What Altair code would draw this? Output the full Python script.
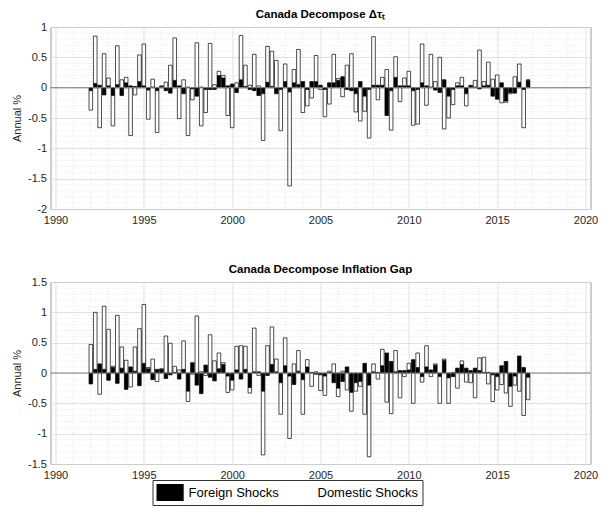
import altair as alt
import pandas as pd
import numpy as np

# ---------------- data ----------------
start_year = 1992.0
quarter_step = 0.25

tau_foreign = [
    -0.05, 0.07, 0.04, -0.12, 0.03, -0.13, 0.05, -0.13, 0.08, 0.03,
    0.02, 0.10, 0.03, -0.04, 0.01, -0.05, 0.02, -0.05, -0.09, 0.12,
    0.03, -0.10, 0.01, -0.02, -0.14, 0.01, -0.03, -0.03, -0.03, 0.20,
    0.16, 0.03, 0.06, -0.08, 0.13, 0.02, -0.03, -0.05, -0.13, -0.10,
    0.09, 0.02, -0.10, -0.03, 0.10, -0.07, 0.08, 0.05, 0.10, -0.03,
    0.10, 0.10, 0.04, -0.03, 0.08, 0.08, 0.12, 0.18, -0.03, -0.05,
    -0.10, 0.10, -0.14, -0.03, 0.04, 0.04, 0.04, -0.46, -0.05, 0.17,
    0.03, 0.03, 0.03, -0.05, -0.03, 0.08, 0.03, 0.01, -0.04, -0.08,
    0.13, -0.14, -0.03, 0.03, 0.03, -0.10, 0.03, 0.01, -0.02, 0.03,
    0.04, -0.14, -0.19, 0.08, -0.22, -0.08, -0.09, 0.09, -0.03, 0.12,
]
tau_domestic = [
    -0.32, 0.78, -0.66, 0.56, 0.13, -0.50, 0.64, 0.13, 0.09, -0.79,
    -0.12, 0.44, 0.69, -0.48, 0.13, -0.69, 0.01, 0.09, 0.37, 0.70,
    -0.51, 0.13, -0.79, -0.18, 0.74, -0.63, -0.38, 0.73, 0.05, 0.07,
    0.04, -0.46, -0.66, 0.08, 0.73, 0.35, 0.04, 0.55, 0.03, -0.77,
    0.59, 0.58, 0.45, -0.68, 0.29, -1.55, 0.22, 0.58, -0.41, -0.27,
    -0.17, 0.43, -0.03, -0.45, -0.27, 0.47, 0.03, -0.15, 0.37, 0.56,
    -0.30, -0.55, -0.25, -0.80, 0.80, -0.20, 0.13, 0.30, -0.65, 0.34,
    -0.23, 0.13, 0.24, -0.57, -0.57, 0.64, -0.29, 0.54, 0.10, 0.50,
    -0.68, -0.36, -0.25, 0.05, 0.14, -0.20, 0.01, 0.11, 0.62, 0.07,
    0.38, 0.14, 0.21, -0.25, -0.02, -0.02, 0.18, 0.30, -0.63, 0.01,
]
gap_foreign = [
    -0.18, 0.06, 0.15, 0.06, -0.12, 0.09, -0.17, 0.08, -0.27, 0.10,
    0.03, -0.21, 0.16, 0.07, -0.11, 0.06, 0.06, -0.09, -0.03, 0.01,
    -0.10, 0.06, -0.30, 0.17, -0.20, -0.34, 0.13, -0.07, -0.13, 0.07,
    0.14, -0.05, -0.12, 0.05, -0.10, 0.06, -0.24, 0.02, 0.02, -0.30,
    -0.04, 0.14, 0.02, -0.16, 0.12, -0.05, -0.19, 0.03, -0.11, 0.10,
    0.01, -0.02, -0.03, -0.05, 0.01, -0.16, -0.25, -0.14, 0.10, -0.32,
    -0.16, -0.14, 0.16, -0.20, 0.02, 0.01, 0.12, 0.33, 0.19, 0.02,
    0.04, 0.04, 0.05, 0.22, 0.09, -0.06, 0.10, 0.05, 0.13, -0.06,
    0.21, -0.08, -0.06, 0.08, 0.14, 0.08, 0.04, 0.08, 0.04, 0.01,
    0.01, -0.03, -0.06, 0.12, 0.19, -0.22, -0.05, 0.28, 0.09, -0.07,
]
gap_domestic = [
    0.47, 0.94, -0.35, 1.04, 0.72, 0.02, 0.95, 0.35, 0.21, -0.23,
    0.40, 0.73, 0.97, 0.02, 0.23, -0.14, 0.01, 0.61, 0.49, 0.10,
    0.05, 0.47, -0.17, -0.02, 0.94, 0.02, -0.04, 0.63, 0.20, 0.26,
    0.03, -0.27, -0.16, 0.39, 0.45, 0.38, -0.09, 0.72, -0.04, -1.05,
    0.45, 0.62, 0.21, -0.52, 0.46, -1.03, 0.15, 0.34, -0.57, 0.12,
    -0.22, 0.02, -0.26, -0.32, 0.02, 0.15, -0.14, 0.03, -0.28, -0.31,
    -0.14, -0.08, -0.68, -1.18, 0.13, -0.10, 0.27, -0.48, -0.67, 0.35,
    -0.41, -0.06, 0.11, -0.50, 0.24, -0.09, 0.35, -0.06, 0.02, -0.44,
    0.02, -0.42, 0.01, -0.25, 0.06, -0.15, -0.16, -0.41, 0.21, 0.25,
    -0.18, -0.44, -0.22, -0.19, -0.33, -0.33, -0.15, -0.30, -0.70, -0.37,
]

series_names = ["Foreign Shocks", "Domestic Shocks"]
x_ticks = [1990, 1995, 2000, 2005, 2010, 2015, 2020]
top_y_ticks = [-2, -1.5, -1, -0.5, 0, 0.5, 1]
bottom_y_ticks = [-1.5, -1, -0.5, 0, 0.5, 1, 1.5]
top_title = "Canada Decompose \u0394\u03c4\u209c"
bottom_title = "Canada Decompose Inflation Gap"
y_title = "Annual %"

dates = [start_year + quarter_step * i for i in range(len(tau_foreign))]


def make_df(foreign, domestic):
    rows = []
    for t, a, b in zip(dates, foreign, domestic):
        rows.append({"date": t, "value": a, "shock": series_names[0], "ord": 0})
        rows.append({"date": t, "value": b, "shock": series_names[1], "ord": 1})
    return pd.DataFrame(rows)


FONT = "Liberation Sans"
W, H = 540, 182
x_minor = [v for v in np.arange(1990, 2020.01, 1.0) if round(v) % 5 != 0]


def panel(df, title, yticks, legend):
    ymin, ymax = yticks[0], yticks[-1]
    y_minor = [round(v, 2) for v in np.arange(ymin, ymax + 0.001, 0.1)
               if abs(round(v * 2) - v * 2) > 1e-6]
    xs = alt.Scale(domain=[1990, 2020], nice=False, zero=False)
    ys = alt.Scale(domain=[ymin, ymax], nice=False, zero=False)
    x_axis = alt.Axis(values=x_ticks, labelExpr="datum.value + ''",
                      title=None, grid=True, ticks=False, tickSize=0,
                      domain=False, labelPadding=5)
    y_axis = alt.Axis(values=yticks, labelExpr="datum.value + ''",
                      title=y_title, grid=True, ticks=False, tickSize=0,
                      domain=False, labelPadding=4, titlePadding=2,
                      titleX=-28, minExtent=24, maxExtent=24)

    gx = alt.Chart(pd.DataFrame({"date": x_minor})).mark_rule(
        color="#dedede", strokeDash=[1, 2], strokeWidth=0.8
    ).encode(x=alt.X("date:Q", scale=xs, axis=x_axis))
    gy = alt.Chart(pd.DataFrame({"value": y_minor})).mark_rule(
        color="#dedede", strokeDash=[1, 2], strokeWidth=0.8
    ).encode(y=alt.Y("value:Q", scale=ys, axis=y_axis))

    bars = alt.Chart(df).mark_bar(
        size=3.6, stroke="black", strokeWidth=0.7
    ).encode(
        x=alt.X("date:Q", scale=xs, axis=x_axis),
        y=alt.Y("value:Q", stack="zero", scale=ys, axis=y_axis),
        fill=alt.Fill("shock:N",
                      scale=alt.Scale(domain=series_names, range=["black", "white"]),
                      legend=legend),
        order=alt.Order("ord:Q"),
    )
    zero = alt.Chart(pd.DataFrame({"value": [0]})).mark_rule(
        color="#808080", strokeWidth=1
    ).encode(y=alt.Y("value:Q", scale=ys, axis=y_axis))

    return alt.layer(gx, gy, bars, zero).properties(
        width=W, height=H,
        title=alt.TitleParams(title, font=FONT, fontSize=11.5, fontWeight="bold",
                              color="black", offset=1, anchor="middle",
                              frame="group"),
    )


legend = alt.Legend(
    orient="none", legendX=102, legendY=453, direction="horizontal", columns=2,
    title=None, symbolType="M-1,-1H2.2V1H-1Z", symbolSize=289,
    symbolStrokeWidth=0, labelFont=FONT, labelFontSize=13, labelColor="black",
    labelOffset=15, columnPadding=6, padding=4, strokeColor="#333333",
    fillColor="white",
)

top = panel(make_df(tau_foreign, tau_domestic), top_title, top_y_ticks, legend)
bottom = panel(make_df(gap_foreign, gap_domestic), bottom_title, bottom_y_ticks, None)

chart = alt.vconcat(top, bottom, spacing=37).properties(
    padding={"left": 2.5, "top": 0, "right": 0, "bottom": 0}
).configure_view(
    stroke="#9a9a9a", strokeWidth=1
).configure_axis(
    labelFont=FONT, labelFontSize=11, labelColor="#262626",
    titleFont=FONT, titleFontSize=11, titleFontWeight="normal", titleColor="#262626",
    gridColor="#d9d9d9", gridWidth=0.8,
)

chart.save("out.html", embed_options={"renderer": "svg", "actions": False})
